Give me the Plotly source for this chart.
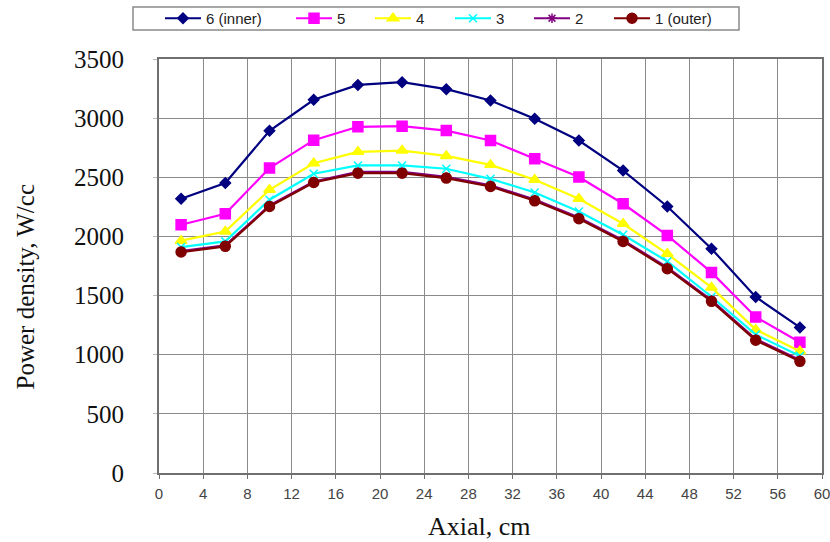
import plotly.graph_objects as go

axial = [2, 6, 10, 14, 18, 22, 26, 30, 34, 38, 42, 46, 50, 54, 58]
s6 = [2318, 2451, 2893, 3155, 3281, 3304, 3245, 3149, 2994, 2811, 2557, 2253, 1896, 1488, 1231]
s5 = [2099, 2192, 2578, 2814, 2927, 2932, 2895, 2811, 2656, 2502, 2276, 2008, 1696, 1319, 1105]
s4 = [1964, 2042, 2394, 2619, 2715, 2726, 2681, 2605, 2479, 2318, 2107, 1853, 1569, 1212, 1029]
s3 = [1910, 1958, 2310, 2530, 2600, 2600, 2572, 2487, 2372, 2211, 2014, 1789, 1490, 1170, 990]
s2 = [1875, 1925, 2262, 2465, 2545, 2545, 2503, 2432, 2311, 2160, 1968, 1738, 1462, 1133, 955]
s1 = [1868, 1916, 2253, 2456, 2535, 2535, 2493, 2422, 2301, 2149, 1958, 1727, 1451, 1122, 944]

names = ["6 (inner)", "5", "4", "3", "2", "1 (outer)"]
values = [s6, s5, s4, s3, s2, s1]
colors = ["#000080", "#FF00FF", "#FFFF00", "#00FFFF", "#800080", "#800000"]
symbols = ["diamond", "square", "triangle-up", "x-thin", "asterisk", "circle"]
sizes = [8, 10, 10, 8, 8, 10]

x_ticks = list(range(0, 61, 4))
y_ticks = list(range(0, 3501, 500))

serif = "Liberation Serif, Times New Roman, serif"
sans = "Liberation Sans, Arial, sans-serif"

# legend entry left edges (px, page coordinates)
legend_left_px = [160, 291, 370, 450, 529, 609]
legend_ids = ["legend", "legend2", "legend3", "legend4", "legend5", "legend6"]

fig = go.Figure()
for name, vals, col, sym, sz, lg in zip(names, values, colors, symbols, sizes, legend_ids):
    fig.add_trace(go.Scatter(
        x=axial, y=vals, name=name, mode="lines+markers", legend=lg,
        line=dict(color=col, width=2.2),
        marker=dict(symbol=sym, size=sz, color=col,
                    line=dict(color=col, width=1.5)),
    ))

legend_common = dict(
    orientation="h", xref="container", yref="container",
    xanchor="left", yanchor="middle", y=1 - 18.5 / 542,
    bgcolor="rgba(0,0,0,0)", borderwidth=0, itemwidth=36,
    font=dict(family=sans, size=15, color="#222222"),
)
legend_layout = {lg: dict(x=px / 830, **legend_common)
                 for lg, px in zip(legend_ids, legend_left_px)}

fig.update_layout(
    width=830, height=542,
    margin=dict(l=159, r=8, t=59, b=69),
    paper_bgcolor="white", plot_bgcolor="white",
    showlegend=True,
    **legend_layout,
    xaxis=dict(
        range=[0, 60], tickvals=x_ticks, ticktext=[str(v) for v in x_ticks],
        automargin=False, ticklabeloverflow="allow",
        showgrid=True, gridcolor="#8a8a8a", gridwidth=1,
        showline=True, linecolor="#707070", linewidth=2, mirror=True,
        ticks="outside", ticklen=4, tickcolor="#707070",
        ticklabelstandoff=2,
        tickfont=dict(family=sans, size=15, color="#444444"),
        zeroline=False,
    ),
    yaxis=dict(
        range=[0, 3500], tickvals=y_ticks, ticktext=[str(v) for v in y_ticks],
        automargin=False, ticklabeloverflow="allow",
        showgrid=True, gridcolor="#8a8a8a", gridwidth=1,
        showline=True, linecolor="#707070", linewidth=2, mirror=True,
        ticks="outside", ticklen=4, tickcolor="#bbbbbb",
        ticklabelstandoff=24,
        tickfont=dict(family=serif, size=25, color="#111111"),
        zeroline=False,
    ),
    shapes=[dict(
        type="rect", xref="paper", yref="paper",
        x0=(133 - 159) / 663, x1=(739 - 159) / 663,
        y0=(473 - 30) / 414, y1=(473 - 7) / 414,
        line=dict(color="#8a8a8a", width=1.5), fillcolor="rgba(0,0,0,0)",
    )],
    annotations=[
        dict(text="Axial, cm", xref="paper", yref="paper",
             x=(479 - 159) / 663, y=(473 - 526) / 414,
             xanchor="center", yanchor="middle", showarrow=False,
             font=dict(family=serif, size=26, color="#111111")),
        dict(text="Power density, W/cc", xref="paper", yref="paper",
             x=(25 - 159) / 663, y=(473 - 286.5) / 414, textangle=-90,
             xanchor="center", yanchor="middle", showarrow=False,
             font=dict(family=serif, size=25, color="#111111")),
    ],
)

fig.write_html("out.html", config={"displayModeBar": False},
               post_script="document.body.style.margin='0';")
